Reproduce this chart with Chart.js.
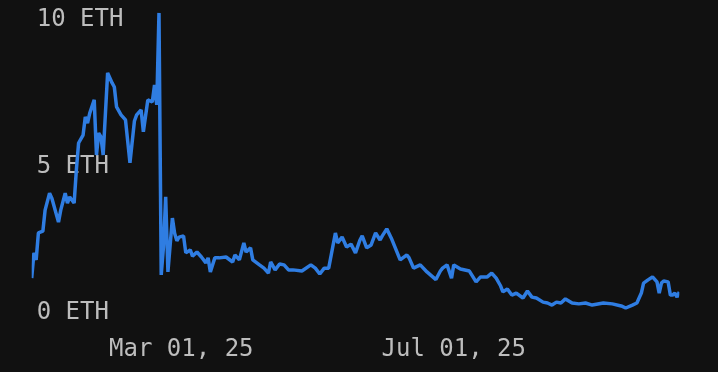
<!DOCTYPE html>
<html>
<head>
<meta charset="utf-8">
<script src="https://cdn.jsdelivr.net/npm/chart.js@4.4.1/dist/chart.umd.min.js"></script>
<style>
  html, body { margin: 0; padding: 0; background: #111111; }
  canvas { display: block; }
</style>
</head>
<body>
<canvas id="myChart" width="718" height="372"></canvas>
<script>
// fechas de la serie (muestreo)
const dates = [
  "2024-12-24","2024-12-25","2024-12-26","2024-12-27","2024-12-29","2024-12-30",
  "2025-01-01","2025-01-02","2025-01-05","2025-01-06","2025-01-08","2025-01-09","2025-01-10",
  "2025-01-12","2025-01-13","2025-01-14","2025-01-16","2025-01-17","2025-01-18","2025-01-19",
  "2025-01-21","2025-01-22","2025-01-23","2025-01-24","2025-01-25","2025-01-27","2025-01-29",
  "2025-01-30","2025-01-31","2025-02-02","2025-02-04","2025-02-06","2025-02-08","2025-02-09",
  "2025-02-11","2025-02-12","2025-02-14","2025-02-16","2025-02-17","2025-02-18","2025-02-19",
  "2025-02-20","2025-02-21","2025-02-22","2025-02-23","2025-02-25","2025-02-26","2025-02-27",
  "2025-02-28","2025-03-02","2025-03-03","2025-03-05","2025-03-06","2025-03-08","2025-03-10",
  "2025-03-12","2025-03-13","2025-03-14","2025-03-16","2025-03-18","2025-03-21","2025-03-24",
  "2025-03-25","2025-03-27","2025-03-29","2025-03-30","2025-04-01","2025-04-02","2025-04-05",
  "2025-04-07","2025-04-09","2025-04-10","2025-04-12","2025-04-14","2025-04-16","2025-04-18",
  "2025-04-20","2025-04-24","2025-04-28","2025-04-30","2025-05-02","2025-05-04","2025-05-06",
  "2025-05-09","2025-05-10","2025-05-12","2025-05-14","2025-05-16","2025-05-18","2025-05-20",
  "2025-05-21","2025-05-23","2025-05-25","2025-05-27","2025-05-29","2025-05-30","2025-06-01",
  "2025-06-03","2025-06-07","2025-06-10","2025-06-11","2025-06-13","2025-06-16","2025-06-19",
  "2025-06-23","2025-06-25","2025-06-26","2025-06-28","2025-06-30","2025-07-01","2025-07-04",
  "2025-07-08","2025-07-11","2025-07-13","2025-07-16","2025-07-18","2025-07-20","2025-07-22",
  "2025-07-23","2025-07-25","2025-07-27","2025-07-29","2025-08-01","2025-08-03","2025-08-05",
  "2025-08-07","2025-08-10","2025-08-12","2025-08-14","2025-08-16","2025-08-18","2025-08-20",
  "2025-08-23","2025-08-26","2025-08-29","2025-09-01","2025-09-06","2025-09-10","2025-09-14",
  "2025-09-16","2025-09-19","2025-09-21","2025-09-23","2025-09-24","2025-09-26","2025-09-28",
  "2025-09-30","2025-10-01","2025-10-02","2025-10-03","2025-10-05","2025-10-06","2025-10-07",
  "2025-10-08","2025-10-09","2025-10-10"
];

// valor en ETH para cada fecha
const ethValues = [
  1.14, 2.00, 1.76, 2.68, 2.74, 3.46,
  4.04, 3.87, 3.05, 3.46, 4.04, 3.70, 3.91,
  3.70, 4.83, 5.75, 6.02, 6.64, 6.43, 6.77,
  7.22, 5.34, 6.09, 5.96, 5.34, 8.14, 7.80,
  7.66, 6.98, 6.71, 6.54, 5.07, 6.50, 6.71,
  6.88, 6.13, 7.22, 7.15, 7.73, 7.05, 10.19,
  1.25, 2.20, 3.91, 1.35, 3.19, 2.67, 2.41,
  2.54, 2.58, 2.00, 2.10, 1.89, 2.03, 1.86,
  1.66, 1.83, 1.35, 1.83, 1.83, 1.86, 1.69,
  1.93, 1.76, 2.34, 2.03, 2.17, 1.76, 1.59,
  1.48, 1.31, 1.69, 1.42, 1.62, 1.59, 1.42,
  1.42, 1.38, 1.59, 1.48, 1.28, 1.48, 1.48,
  2.68, 2.34, 2.54, 2.20, 2.30, 2.00, 2.44,
  2.58, 2.17, 2.27, 2.68, 2.44, 2.58, 2.82,
  2.51, 1.76, 1.93, 1.83, 1.48, 1.59, 1.35,
  1.09, 1.38, 1.48, 1.59, 1.14, 1.59, 1.45,
  1.38, 1.01, 1.18, 1.18, 1.31, 1.14, 0.87,
  0.67, 0.77, 0.56, 0.63, 0.46, 0.70, 0.49,
  0.46, 0.32, 0.29, 0.22, 0.32, 0.29, 0.43,
  0.29, 0.26, 0.29, 0.22, 0.29, 0.26, 0.19,
  0.12, 0.22, 0.29, 0.63, 0.97, 1.08, 1.18,
  1.01, 0.63, 0.97, 1.04, 1.01, 0.56, 0.56,
  0.63, 0.49, 0.67
];

const xTickDates = ["2025-03-01", "2025-07-01"];
const xTickLabels = ["Mar 01, 25", "Jul 01, 25"];
const yTickValues = [0, 5, 10];

function dayOf(dateStr) {
    return Math.round(Date.parse(dateStr) / 86400000);
}

const xTickDays = xTickDates.map(dayOf);
const points = dates.map((d, i) => ({ x: dayOf(d), y: ethValues[i] }));

const labelFont = { family: "'DejaVu Sans Mono', monospace", size: 24 };
const labelColor = '#bdbdbd';

const ctx = document.getElementById('myChart').getContext('2d');
const myChart = new Chart(ctx, {
    type: 'line',
    data: {
        datasets: [{
            data: points,
            borderColor: '#2f7de2',
            borderWidth: 3.5,
            borderJoinStyle: 'bevel',
            pointRadius: 0,
            tension: 0,
            fill: false
        }]
    },
    options: {
        responsive: false,
        animation: false,
        layout: { padding: { left: 26.7, right: 38.7, top: 12.6, bottom: 9.7 } },
        plugins: { legend: { display: false }, tooltip: { enabled: false } },
        scales: {
            x: {
                type: 'linear',
                min: points[0].x,
                max: points[points.length - 1].x,
                grid: { display: false, drawTicks: false },
                border: { display: false },
                afterBuildTicks: scale => {
                    scale.ticks = xTickDays.map(v => ({ value: v }));
                },
                afterFit: scale => {
                    scale.height = 50.8;
                    scale.paddingLeft = 0;
                    scale.paddingRight = 0;
                },
                ticks: {
                    autoSkip: false,
                    maxRotation: 0,
                    padding: 24,
                    color: labelColor,
                    font: labelFont,
                    callback: value => xTickLabels[xTickDays.indexOf(value)]
                }
            },
            y: {
                min: 0,
                max: 10.2,
                grid: { display: false, drawTicks: false },
                border: { display: false },
                afterBuildTicks: scale => {
                    scale.ticks = yTickValues.map(v => ({ value: v }));
                },
                afterFit: scale => {
                    scale.width = 5;
                    scale.paddingTop = 0;
                    scale.paddingBottom = 0;
                },
                ticks: {
                    mirror: true,
                    padding: 5,
                    labelOffset: 1.5,
                    color: labelColor,
                    font: labelFont,
                    callback: value => value + ' ETH'
                }
            }
        }
    }
});
</script>
</body>
</html>
